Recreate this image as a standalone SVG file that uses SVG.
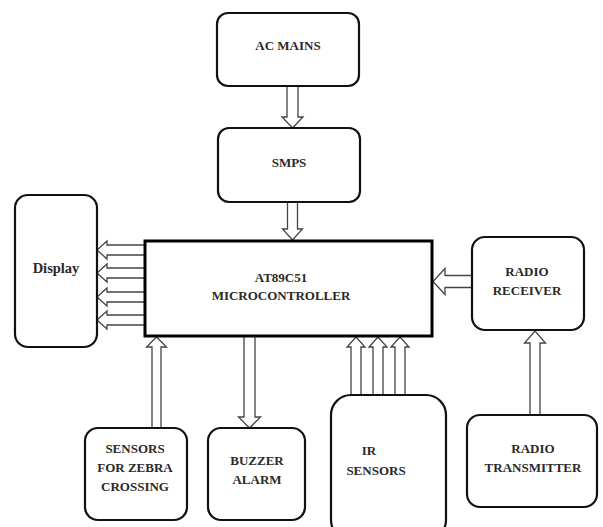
<svg xmlns="http://www.w3.org/2000/svg" width="603" height="527" viewBox="0 0 603 527">
<style>
.box{fill:#fff;stroke:#111;stroke-width:2.2}
.mcu{fill:#fff;stroke:#000;stroke-width:3}
.arr{fill:#fff;stroke:#444;stroke-width:1.3;stroke-linejoin:miter}
text{font-family:"Liberation Serif","Times New Roman",serif;font-weight:bold;font-size:13px;fill:#2a2a2a;text-anchor:middle}
</style>
<rect width="603" height="527" fill="#fff"/>
<g id="connectors">
<path class="arr" d="M287,86 L287,117 L282,117 L292.5,128 L303,117 L298,117 L298,86"/>
<path class="arr" d="M287.5,202 L287.5,229 L282.5,229 L292.5,240 L302.5,229 L297.5,229 L297.5,202"/>
<path class="arr" d="M472,275.5 L445,275.5 L445,268.5 L433,281.5 L445,294.5 L445,287.5 L472,287.5"/>
<path class="arr" d="M530,415 L530,343 L524.5,343 L535,331 L545.5,343 L540,343 L540,415"/>
<path class="arr" d="M152,428 L152,347 L146.5,347 L156.5,337 L166.5,347 L161,347 L161,428"/>
<path class="arr" d="M244,336 L244,417 L238.5,417 L249.5,428 L260.5,417 L255,417 L255,336"/>
<path class="arr" d="M351,395 L351,347 L347,347 L356,337 L365,347 L361,347 L361,395"/>
<path class="arr" d="M373,395 L373,347 L369,347 L378,337 L387,347 L383,347 L383,395"/>
<path class="arr" d="M395,395 L395,347 L391,347 L400,337 L409,347 L405,347 L405,395"/>
<path class="arr" d="M145,245 L107,245 L107,241 L97,250 L107,259 L107,255 L145,255"/>
<path class="arr" d="M145,268 L107,268 L107,264 L97,273 L107,282 L107,278 L145,278"/>
<path class="arr" d="M145,292 L107,292 L107,288 L97,297 L107,306 L107,302 L145,302"/>
<path class="arr" d="M145,315 L107,315 L107,311 L97,320 L107,329 L107,325 L145,325"/>
</g>
<g id="ac-mains">
<rect class="box" x="217" y="13" width="142" height="73" rx="11"/>
<text x="288" y="50">AC MAINS</text>
</g>
<g id="smps">
<rect class="box" x="218" y="128" width="142" height="74" rx="11"/>
<text x="289" y="167">SMPS</text>
</g>
<g id="mcu">
<rect class="mcu" x="145" y="241" width="287" height="95"/>
<text x="281" y="282">AT89C51</text>
<text x="281" y="300">MICROCONTROLLER</text>
</g>
<g id="display">
<rect class="box" x="15" y="195" width="82" height="152" rx="13"/>
<text x="56" y="273" style="font-size:14.5px">Display</text>
</g>
<g id="radio-receiver">
<rect class="box" x="472" y="237" width="112" height="93" rx="13"/>
<text x="527" y="276">RADIO</text>
<text x="527" y="295">RECEIVER</text>
</g>
<g id="radio-transmitter">
<rect class="box" x="467" y="415" width="130" height="92" rx="13"/>
<text x="533" y="453">RADIO</text>
<text x="533" y="472">TRANSMITTER</text>
</g>
<g id="sensors-zebra">
<rect class="box" x="85" y="428" width="102" height="92" rx="13"/>
<text x="135" y="453">SENSORS</text>
<text x="135" y="472">FOR ZEBRA</text>
<text x="135" y="491">CROSSING</text>
</g>
<g id="buzzer-alarm">
<rect class="box" x="208" y="428" width="97" height="92" rx="13"/>
<text x="257" y="465">BUZZER</text>
<text x="257" y="484">ALARM</text>
</g>
<g id="ir-sensors">
<rect class="box" x="331" y="395" width="115" height="145" rx="20"/>
<text x="369" y="455">IR</text>
<text x="376" y="475">SENSORS</text>
</g>
</svg>
